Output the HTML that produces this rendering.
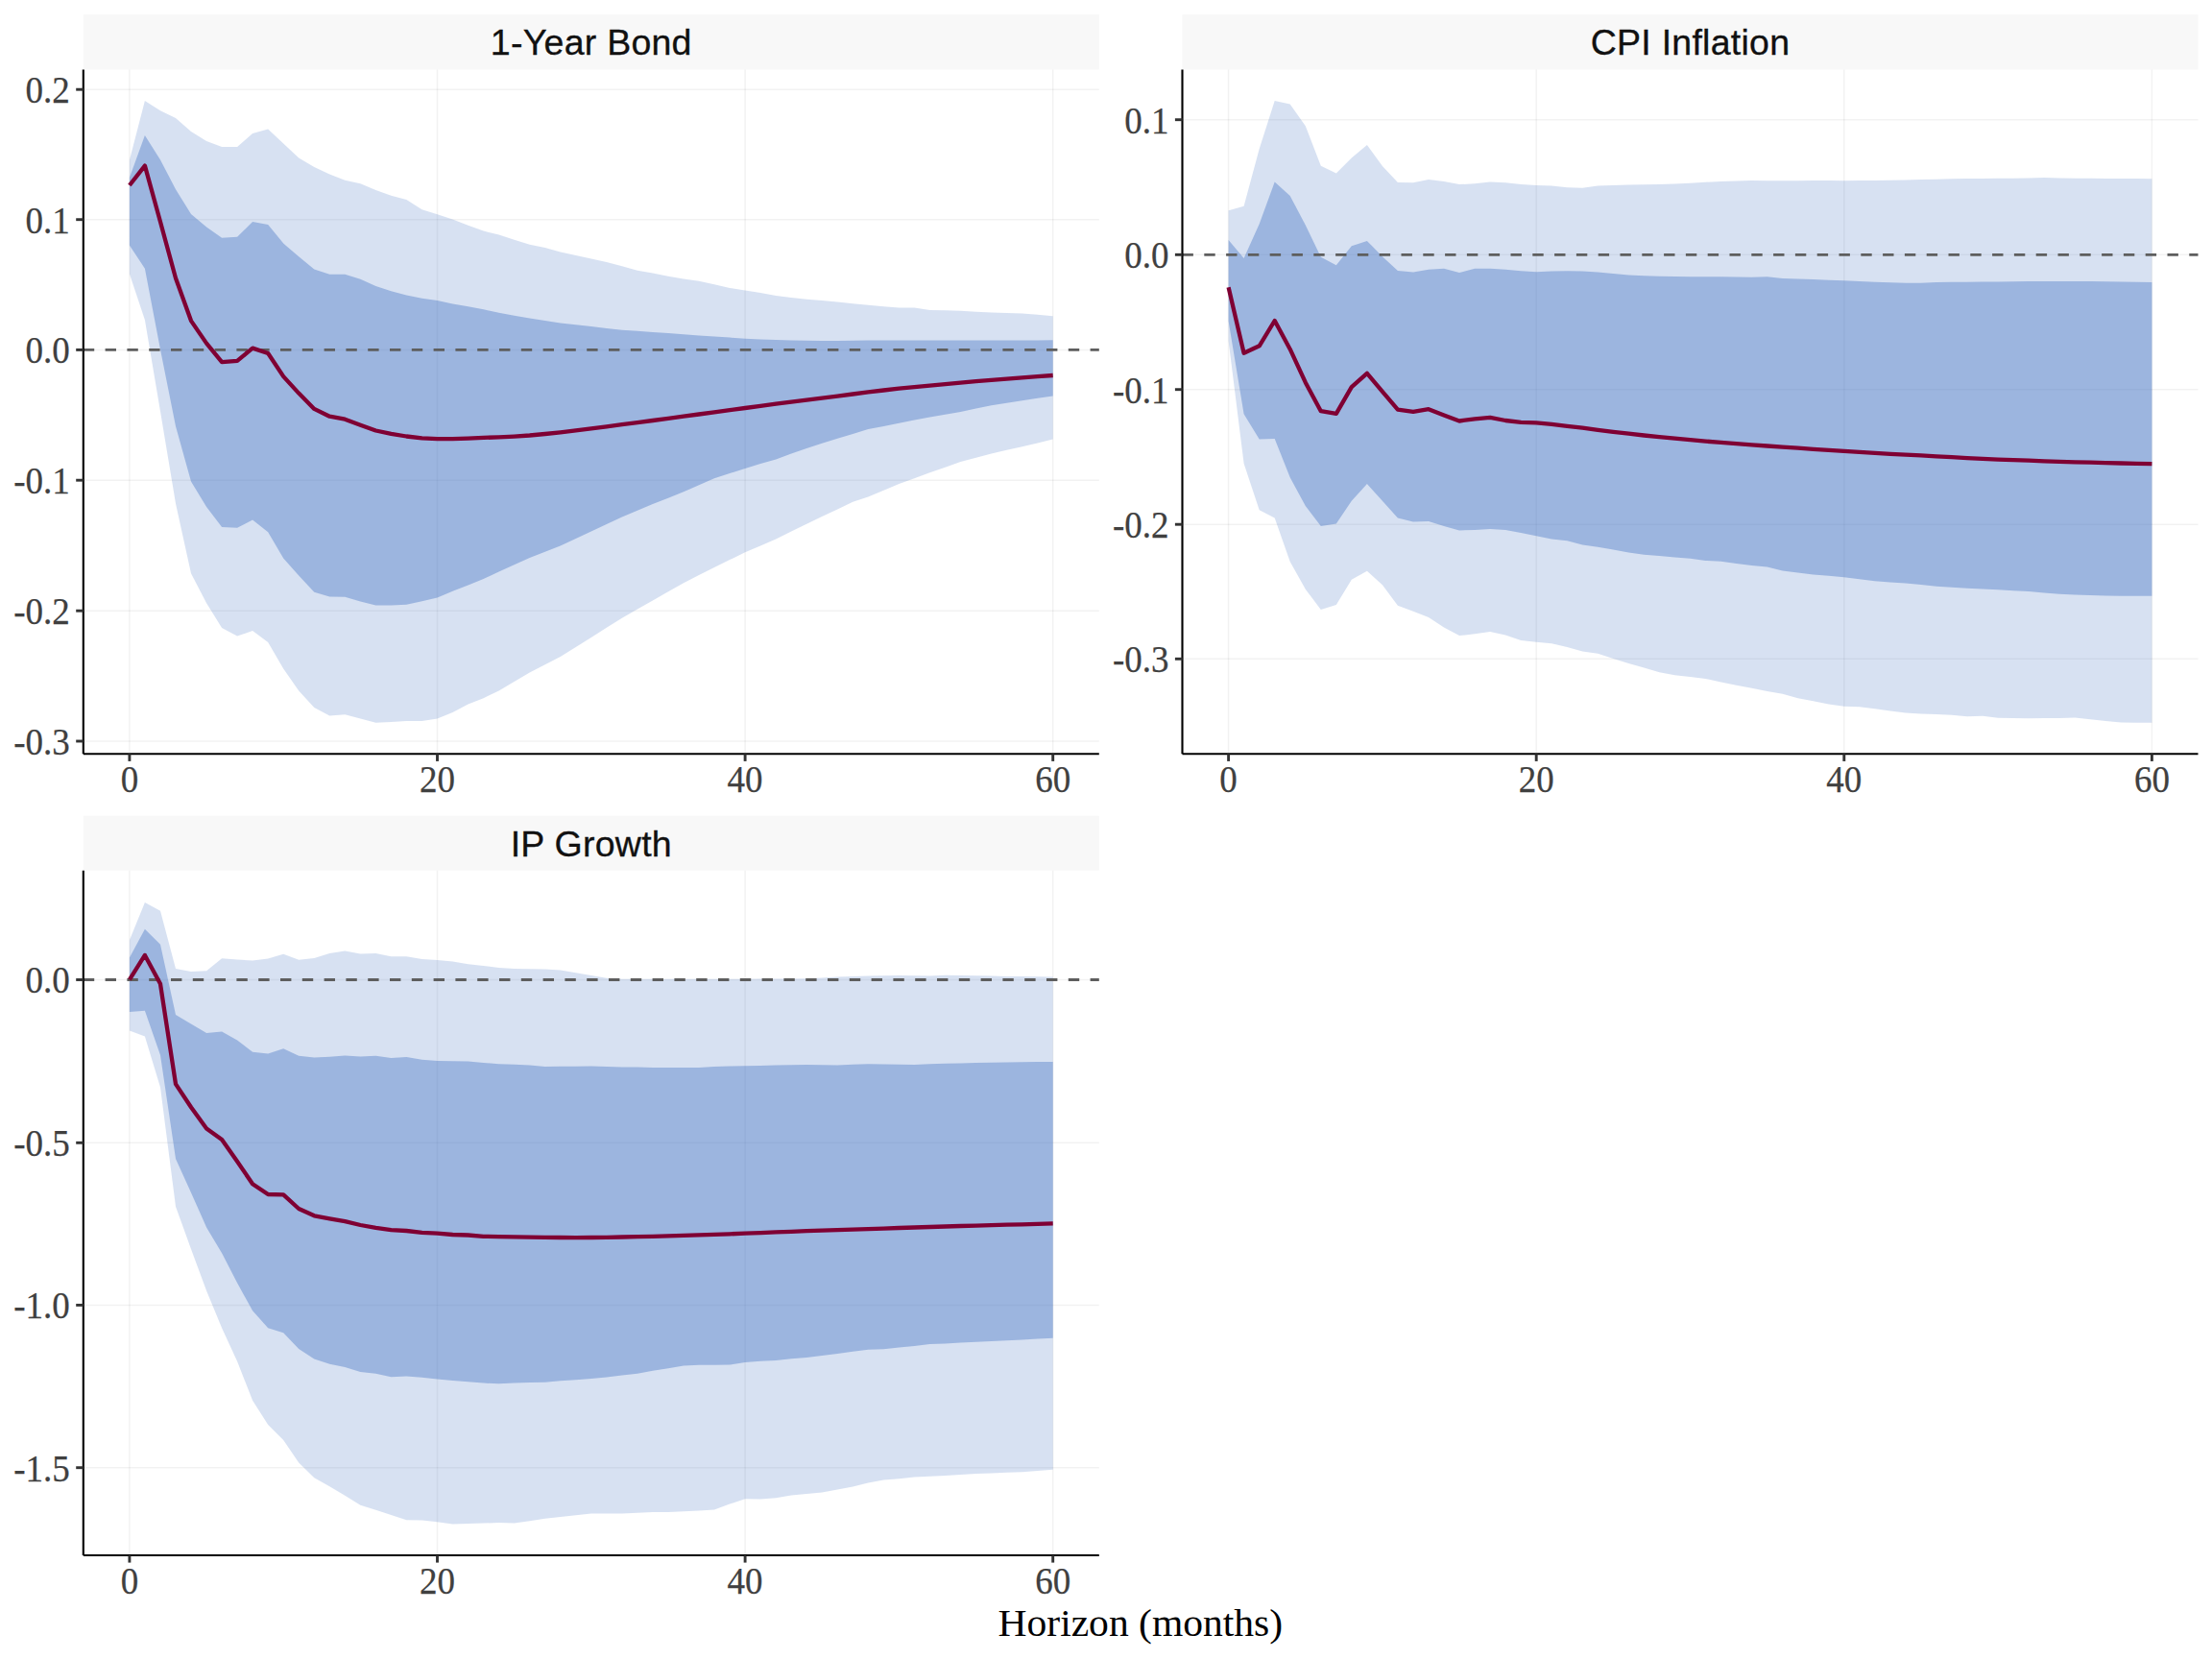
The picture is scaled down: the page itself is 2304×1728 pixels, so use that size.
<!DOCTYPE html>
<html lang="en"><head><meta charset="utf-8"><title>Impulse responses</title>
<style>html,body{margin:0;padding:0;background:#fff}svg{display:block}.t{font-family:"Liberation Serif",serif;font-size:39.8px;fill:#404040;stroke:#404040;stroke-width:0.25px}.s{font-family:"Liberation Sans",sans-serif;font-size:37.5px;fill:#111;stroke:#111;stroke-width:0.3px;letter-spacing:0.25px}.a{font-family:"Liberation Serif",serif;font-size:39.5px;fill:#000}</style></head><body>
<svg width="2304" height="1728" viewBox="0 0 2304 1728">
<rect width="2304" height="1728" fill="#fff"/>
<g>
<rect x="86.8" y="15" width="1058" height="57.5" fill="#F8F8F8"/>
<text class="s" x="615.8" y="57" text-anchor="middle">1-Year Bond</text>
<line x1="86.8" x2="1144.8" y1="93.2" y2="93.2" stroke="#000" stroke-opacity="0.05" stroke-width="1.5"/>
<line x1="86.8" x2="1144.8" y1="228.7" y2="228.7" stroke="#000" stroke-opacity="0.05" stroke-width="1.5"/>
<line x1="86.8" x2="1144.8" y1="364.4" y2="364.4" stroke="#000" stroke-opacity="0.05" stroke-width="1.5"/>
<line x1="86.8" x2="1144.8" y1="500.2" y2="500.2" stroke="#000" stroke-opacity="0.05" stroke-width="1.5"/>
<line x1="86.8" x2="1144.8" y1="636.2" y2="636.2" stroke="#000" stroke-opacity="0.05" stroke-width="1.5"/>
<line x1="86.8" x2="1144.8" y1="772" y2="772" stroke="#000" stroke-opacity="0.05" stroke-width="1.5"/>
<line x1="134.9" x2="134.9" y1="72.5" y2="785.3" stroke="#000" stroke-opacity="0.05" stroke-width="1.5"/>
<line x1="455.5" x2="455.5" y1="72.5" y2="785.3" stroke="#000" stroke-opacity="0.05" stroke-width="1.5"/>
<line x1="776.1" x2="776.1" y1="72.5" y2="785.3" stroke="#000" stroke-opacity="0.05" stroke-width="1.5"/>
<line x1="1096.7" x2="1096.7" y1="72.5" y2="785.3" stroke="#000" stroke-opacity="0.05" stroke-width="1.5"/>
<polygon points="134.9,166.8 150.9,105 167,115.3 183,123 199,137 215.1,146.9 231.1,152.9 247.1,152.9 263.1,139 279.2,134.6 295.2,149.6 311.2,164.6 327.3,174 343.3,181.6 359.3,187.8 375.4,191.2 391.4,197.9 407.4,203.7 423.4,208 439.5,218.3 455.5,223.2 471.5,228.6 487.6,234.7 503.6,240.6 519.6,244.5 535.6,249.7 551.7,254.8 567.7,257.9 583.7,262.4 599.8,266 615.8,269.6 631.8,272.9 647.9,277.2 663.9,281.7 679.9,284.6 696,287.7 712,290.4 728,292.8 744,296.2 760.1,300 776.1,302.5 792.1,304.9 808.2,307.9 824.2,309.9 840.2,311.7 856.2,313 872.3,314.6 888.3,316.2 904.3,317.8 920.4,319.2 936.4,320.5 952.4,320.5 968.5,322.9 984.5,323.3 1000.5,323.8 1016.6,324.7 1032.6,325.6 1048.6,326 1064.6,326.5 1080.7,327.8 1096.7,329.2 1096.7,457.6 1080.7,461.4 1064.6,465.2 1048.6,468.8 1032.6,472.4 1016.6,476.8 1000.5,481.1 984.5,486.7 968.5,492.3 952.4,498.2 936.4,504.1 920.4,510.8 904.3,517.6 888.3,522.7 872.3,530.4 856.2,538.1 840.2,545.7 824.2,553.6 808.2,561.5 792.1,568.4 776.1,575.3 760.1,583.1 744,591 728,599.1 712,607.3 696,616.3 679.9,625.4 663.9,634.6 647.9,643.8 631.8,653.8 615.8,663.9 599.8,674 583.7,684.1 567.7,692.3 551.7,700.4 535.6,709.9 519.6,719.5 503.6,727.2 487.6,733.5 471.5,742 455.5,748.5 439.5,751 423.4,751 407.4,751.9 391.4,752.8 375.4,748.5 359.3,744.3 343.3,745.6 327.3,737.1 311.2,719.6 295.2,696.4 279.2,668.9 263.1,657 247.1,662.6 231.1,653.9 215.1,628.2 199,597.3 183,524.4 167,428.6 150.9,333.2 134.9,285.2" fill="#4472C4" fill-opacity="0.215"/>
<polygon points="134.9,184.9 150.9,141.1 167,166.4 183,197.2 199,222.9 215.1,236.4 231.1,247.8 247.1,246.7 263.1,231 279.2,234.1 295.2,253.6 311.2,267.2 327.3,280.4 343.3,285.8 359.3,285.8 375.4,290.7 391.4,297.9 407.4,303.3 423.4,307.5 439.5,310.7 455.5,312.9 471.5,316.5 487.6,319.2 503.6,322.3 519.6,325.7 535.6,328.7 551.7,331.6 567.7,334.1 583.7,336.5 599.8,338.3 615.8,340.1 631.8,342 647.9,343.8 663.9,344.8 679.9,345.9 696,347.1 712,348.3 728,349.4 744,350.5 760.1,351.6 776.1,352.8 792.1,353.4 808.2,354.1 824.2,354.4 840.2,354.7 856.2,354.9 872.3,355 888.3,354.8 904.3,354.5 920.4,354.5 936.4,354.5 952.4,354.5 968.5,354.5 984.5,354.5 1000.5,354.5 1016.6,354.5 1032.6,354.5 1048.6,354.5 1064.6,354.5 1080.7,354.4 1096.7,354.3 1096.7,412.4 1080.7,414.8 1064.6,417.3 1048.6,419.7 1032.6,422.2 1016.6,425.6 1000.5,429 984.5,431.7 968.5,434.4 952.4,437.6 936.4,440.8 920.4,443.9 904.3,447.1 888.3,451.9 872.3,456.7 856.2,461.8 840.2,466.9 824.2,472.6 808.2,478.4 792.1,483.1 776.1,487.9 760.1,493 744,498.2 728,505.3 712,512.3 696,518.7 679.9,525 663.9,531.8 647.9,538.6 631.8,546.1 615.8,553.6 599.8,561 583.7,568.4 567.7,574.7 551.7,581 535.6,588.2 519.6,595.4 503.6,603.1 487.6,609.5 471.5,615.8 455.5,622.5 439.5,626.3 423.4,629.7 407.4,630.6 391.4,630.6 375.4,626.6 359.3,621.7 343.3,621.6 327.3,616.7 311.2,599.5 295.2,581.4 279.2,554.3 263.1,541.6 247.1,549.8 231.1,548.9 215.1,528.1 199,501.5 183,444 167,363.9 150.9,279.8 134.9,255.4" fill="#4472C4" fill-opacity="0.4"/>
<line x1="86.8" x2="1144.8" y1="364.4" y2="364.4" stroke="#5E5E5E" stroke-width="2.85" stroke-dasharray="11.4 11.4"/>
<polyline points="134.9,193 150.9,172.6 167,231 183,289.8 199,334.1 215.1,357.6 231.1,377.1 247.1,375.8 263.1,362.6 279.2,368 295.2,392.1 311.2,409.6 327.3,425.9 343.3,433.7 359.3,436.7 375.4,442.7 391.4,448.5 407.4,451.8 423.4,454.5 439.5,456.3 455.5,457.2 471.5,457.2 487.6,456.6 503.6,455.9 519.6,455.4 535.6,454.6 551.7,453.5 567.7,452 583.7,450.3 599.8,448.3 615.8,446.3 631.8,444.3 647.9,442.2 663.9,440.1 679.9,438 696,435.8 712,433.6 728,431.5 744,429.3 760.1,427.2 776.1,425 792.1,422.9 808.2,420.7 824.2,418.6 840.2,416.6 856.2,414.6 872.3,412.6 888.3,410.5 904.3,408.4 920.4,406.5 936.4,404.7 952.4,403.1 968.5,401.6 984.5,400.1 1000.5,398.6 1016.6,397.2 1032.6,395.9 1048.6,394.6 1064.6,393.4 1080.7,392.2 1096.7,391" fill="none" stroke="#7F0033" stroke-width="4.3" stroke-linejoin="round" stroke-linecap="butt"/>
<line x1="86.8" x2="86.8" y1="72.5" y2="785.3" stroke="#000" stroke-width="2.13"/>
<line x1="86.8" x2="1144.8" y1="785.3" y2="785.3" stroke="#000" stroke-width="2.13"/>
<line x1="79.2" x2="86.8" y1="93.2" y2="93.2" stroke="#333333" stroke-width="2.9"/>
<text class="t" x="72.8" y="107.1" text-anchor="end" textLength="46.3" lengthAdjust="spacingAndGlyphs">0.2</text>
<line x1="79.2" x2="86.8" y1="228.7" y2="228.7" stroke="#333333" stroke-width="2.9"/>
<text class="t" x="72.8" y="242.6" text-anchor="end" textLength="46.3" lengthAdjust="spacingAndGlyphs">0.1</text>
<line x1="79.2" x2="86.8" y1="364.4" y2="364.4" stroke="#333333" stroke-width="2.9"/>
<text class="t" x="72.8" y="378.3" text-anchor="end" textLength="46.3" lengthAdjust="spacingAndGlyphs">0.0</text>
<line x1="79.2" x2="86.8" y1="500.2" y2="500.2" stroke="#333333" stroke-width="2.9"/>
<text class="t" x="72.8" y="514.1" text-anchor="end" textLength="58.6" lengthAdjust="spacingAndGlyphs">-0.1</text>
<line x1="79.2" x2="86.8" y1="636.2" y2="636.2" stroke="#333333" stroke-width="2.9"/>
<text class="t" x="72.8" y="650.1" text-anchor="end" textLength="58.6" lengthAdjust="spacingAndGlyphs">-0.2</text>
<line x1="79.2" x2="86.8" y1="772" y2="772" stroke="#333333" stroke-width="2.9"/>
<text class="t" x="72.8" y="785.9" text-anchor="end" textLength="58.6" lengthAdjust="spacingAndGlyphs">-0.3</text>
<line x1="134.9" x2="134.9" y1="785.3" y2="792.9" stroke="#333333" stroke-width="2.9"/>
<text class="t" x="134.9" y="825.3" text-anchor="middle" textLength="18.5" lengthAdjust="spacingAndGlyphs">0</text>
<line x1="455.5" x2="455.5" y1="785.3" y2="792.9" stroke="#333333" stroke-width="2.9"/>
<text class="t" x="455.5" y="825.3" text-anchor="middle" textLength="37.0" lengthAdjust="spacingAndGlyphs">20</text>
<line x1="776.1" x2="776.1" y1="785.3" y2="792.9" stroke="#333333" stroke-width="2.9"/>
<text class="t" x="776.1" y="825.3" text-anchor="middle" textLength="37.0" lengthAdjust="spacingAndGlyphs">40</text>
<line x1="1096.7" x2="1096.7" y1="785.3" y2="792.9" stroke="#333333" stroke-width="2.9"/>
<text class="t" x="1096.7" y="825.3" text-anchor="middle" textLength="37.0" lengthAdjust="spacingAndGlyphs">60</text>
</g>
<g>
<rect x="1231.5" y="15" width="1058" height="57.5" fill="#F8F8F8"/>
<text class="s" x="1760.5" y="57" text-anchor="middle">CPI Inflation</text>
<line x1="1231.5" x2="2289.5" y1="124.7" y2="124.7" stroke="#000" stroke-opacity="0.05" stroke-width="1.5"/>
<line x1="1231.5" x2="2289.5" y1="265.3" y2="265.3" stroke="#000" stroke-opacity="0.05" stroke-width="1.5"/>
<line x1="1231.5" x2="2289.5" y1="405.7" y2="405.7" stroke="#000" stroke-opacity="0.05" stroke-width="1.5"/>
<line x1="1231.5" x2="2289.5" y1="546.2" y2="546.2" stroke="#000" stroke-opacity="0.05" stroke-width="1.5"/>
<line x1="1231.5" x2="2289.5" y1="686.3" y2="686.3" stroke="#000" stroke-opacity="0.05" stroke-width="1.5"/>
<line x1="1279.6" x2="1279.6" y1="72.5" y2="785.3" stroke="#000" stroke-opacity="0.05" stroke-width="1.5"/>
<line x1="1600.2" x2="1600.2" y1="72.5" y2="785.3" stroke="#000" stroke-opacity="0.05" stroke-width="1.5"/>
<line x1="1920.8" x2="1920.8" y1="72.5" y2="785.3" stroke="#000" stroke-opacity="0.05" stroke-width="1.5"/>
<line x1="2241.4" x2="2241.4" y1="72.5" y2="785.3" stroke="#000" stroke-opacity="0.05" stroke-width="1.5"/>
<polygon points="1279.6,219.2 1295.6,214.7 1311.7,155 1327.7,105 1343.7,108.6 1359.8,131.2 1375.8,172.8 1391.8,180.5 1407.8,164.6 1423.9,150.9 1439.9,173.1 1455.9,189.9 1472,190.3 1488,187.1 1504,188.9 1520,192.1 1536.1,191.2 1552.1,189.4 1568.1,190.3 1584.2,192.1 1600.2,193 1616.2,193.4 1632.3,195.3 1648.3,195.7 1664.3,193.4 1680.3,192.9 1696.4,192.5 1712.4,192.3 1728.4,192.1 1744.5,191.4 1760.5,190.7 1776.5,189.8 1792.6,188.9 1808.6,188.4 1824.6,188 1840.7,188.2 1856.7,188.3 1872.7,188.2 1888.7,188 1904.8,188.1 1920.8,188.2 1936.8,188.1 1952.9,188 1968.9,187.7 1984.9,187.5 2000.9,187.1 2017,186.7 2033,186.3 2049,186 2065.1,185.9 2081.1,185.8 2097.1,185.7 2113.2,185.6 2129.2,185.1 2145.2,185.6 2161.2,185.7 2177.3,185.8 2193.3,185.9 2209.3,186 2225.4,186.1 2241.4,186.2 2241.4,752.8 2225.4,752.7 2209.3,752.6 2193.3,750.9 2177.3,749.3 2161.2,747.4 2145.2,748 2129.2,748.1 2113.2,748.2 2097.1,748 2081.1,747.7 2065.1,745.8 2049,746.3 2033,744.7 2017,743.9 2000.9,743.6 1984.9,742.5 1968.9,740.4 1952.9,738.2 1936.8,736.3 1920.8,735.8 1904.8,733.6 1888.7,730.3 1872.7,727.3 1856.7,722.7 1840.7,720 1824.6,716.8 1808.6,713.8 1792.6,710.5 1776.5,707 1760.5,705.1 1744.5,703.2 1728.4,700.2 1712.4,695.6 1696.4,691.1 1680.3,685.9 1664.3,680.7 1648.3,678.4 1632.3,674.1 1616.2,670.2 1600.2,668.8 1584.2,666.9 1568.1,661.5 1552.1,658.1 1536.1,660.3 1520,662.1 1504,653.6 1488,643.1 1472,636.7 1455.9,630.8 1439.9,609.3 1423.9,594.8 1407.8,603.8 1391.8,629.9 1375.8,634.9 1359.8,613.8 1343.7,585.1 1327.7,539.4 1311.7,531.3 1295.6,482.8 1279.6,355" fill="#4472C4" fill-opacity="0.215"/>
<polygon points="1279.6,250 1295.6,269 1311.7,233.3 1327.7,189.4 1343.7,203.9 1359.8,234.6 1375.8,267.7 1391.8,276.2 1407.8,256.3 1423.9,250.9 1439.9,267.2 1455.9,282 1472,283.4 1488,280.7 1504,279.8 1520,284 1536.1,279.8 1552.1,279.8 1568.1,280.7 1584.2,282.2 1600.2,283.3 1616.2,282.5 1632.3,282.3 1648.3,282.5 1664.3,283.5 1680.3,285 1696.4,286.5 1712.4,287.2 1728.4,287.8 1744.5,288.1 1760.5,288.3 1776.5,288.3 1792.6,288.3 1808.6,288.5 1824.6,288.7 1840.7,288.3 1856.7,290.1 1872.7,290.6 1888.7,291 1904.8,291.7 1920.8,292.3 1936.8,293 1952.9,293.8 1968.9,294.3 1984.9,294.8 2000.9,294.8 2017,293.9 2033,293.8 2049,293.8 2065.1,293.6 2081.1,293.4 2097.1,293.2 2113.2,293 2129.2,293 2145.2,293 2161.2,293 2177.3,293 2193.3,293.2 2209.3,293.4 2225.4,293.7 2241.4,293.9 2241.4,620.8 2225.4,620.8 2209.3,620.8 2193.3,620.4 2177.3,620.1 2161.2,619.4 2145.2,618.8 2129.2,617.5 2113.2,616.1 2097.1,615.2 2081.1,614.3 2065.1,613.6 2049,612.8 2033,611.8 2017,610.8 2000.9,609.1 1984.9,607.4 1968.9,606.4 1952.9,605.3 1936.8,603.3 1920.8,601.2 1904.8,599.8 1888.7,598.4 1872.7,596.4 1856.7,594.4 1840.7,590.4 1824.6,589 1808.6,586.9 1792.6,584.8 1776.5,583.9 1760.5,581.7 1744.5,580.4 1728.4,579 1712.4,577.8 1696.4,575.4 1680.3,572.6 1664.3,569.7 1648.3,567.5 1632.3,563.3 1616.2,561.5 1600.2,558.2 1584.2,555.1 1568.1,552.1 1552.1,551 1536.1,551.9 1520,552.4 1504,547.9 1488,543 1472,543.4 1455.9,539.4 1439.9,521.7 1423.9,504.1 1407.8,521.7 1391.8,545.6 1375.8,547.9 1359.8,527.1 1343.7,497.3 1327.7,456.9 1311.7,457.5 1295.6,431.3 1279.6,334.5" fill="#4472C4" fill-opacity="0.4"/>
<line x1="1231.5" x2="2289.5" y1="265.3" y2="265.3" stroke="#5E5E5E" stroke-width="2.85" stroke-dasharray="11.4 11.4"/>
<polyline points="1279.6,299.2 1295.6,367.7 1311.7,360.3 1327.7,334 1343.7,363.7 1359.8,398.4 1375.8,428.2 1391.8,430.9 1407.8,403.2 1423.9,388.8 1439.9,407.8 1455.9,426.7 1472,428.9 1488,426.2 1504,432.5 1520,438.5 1536.1,436.3 1552.1,434.9 1568.1,438 1584.2,439.8 1600.2,440.3 1616.2,441.8 1632.3,443.8 1648.3,445.7 1664.3,447.8 1680.3,449.8 1696.4,451.7 1712.4,453.5 1728.4,455.1 1744.5,456.7 1760.5,458.2 1776.5,459.6 1792.6,460.9 1808.6,462.1 1824.6,463.3 1840.7,464.5 1856.7,465.6 1872.7,466.7 1888.7,467.8 1904.8,468.8 1920.8,469.9 1936.8,470.9 1952.9,471.8 1968.9,472.8 1984.9,473.6 2000.9,474.4 2017,475.3 2033,476.2 2049,477.1 2065.1,477.9 2081.1,478.6 2097.1,479.2 2113.2,479.7 2129.2,480.3 2145.2,480.8 2161.2,481.3 2177.3,481.7 2193.3,482.1 2209.3,482.5 2225.4,482.8 2241.4,483.2" fill="none" stroke="#7F0033" stroke-width="4.3" stroke-linejoin="round" stroke-linecap="butt"/>
<line x1="1231.5" x2="1231.5" y1="72.5" y2="785.3" stroke="#000" stroke-width="2.13"/>
<line x1="1231.5" x2="2289.5" y1="785.3" y2="785.3" stroke="#000" stroke-width="2.13"/>
<line x1="1223.9" x2="1231.5" y1="124.7" y2="124.7" stroke="#333333" stroke-width="2.9"/>
<text class="t" x="1217.5" y="138.6" text-anchor="end" textLength="46.3" lengthAdjust="spacingAndGlyphs">0.1</text>
<line x1="1223.9" x2="1231.5" y1="265.3" y2="265.3" stroke="#333333" stroke-width="2.9"/>
<text class="t" x="1217.5" y="279.2" text-anchor="end" textLength="46.3" lengthAdjust="spacingAndGlyphs">0.0</text>
<line x1="1223.9" x2="1231.5" y1="405.7" y2="405.7" stroke="#333333" stroke-width="2.9"/>
<text class="t" x="1217.5" y="419.6" text-anchor="end" textLength="58.6" lengthAdjust="spacingAndGlyphs">-0.1</text>
<line x1="1223.9" x2="1231.5" y1="546.2" y2="546.2" stroke="#333333" stroke-width="2.9"/>
<text class="t" x="1217.5" y="560.1" text-anchor="end" textLength="58.6" lengthAdjust="spacingAndGlyphs">-0.2</text>
<line x1="1223.9" x2="1231.5" y1="686.3" y2="686.3" stroke="#333333" stroke-width="2.9"/>
<text class="t" x="1217.5" y="700.2" text-anchor="end" textLength="58.6" lengthAdjust="spacingAndGlyphs">-0.3</text>
<line x1="1279.6" x2="1279.6" y1="785.3" y2="792.9" stroke="#333333" stroke-width="2.9"/>
<text class="t" x="1279.6" y="825.3" text-anchor="middle" textLength="18.5" lengthAdjust="spacingAndGlyphs">0</text>
<line x1="1600.2" x2="1600.2" y1="785.3" y2="792.9" stroke="#333333" stroke-width="2.9"/>
<text class="t" x="1600.2" y="825.3" text-anchor="middle" textLength="37.0" lengthAdjust="spacingAndGlyphs">20</text>
<line x1="1920.8" x2="1920.8" y1="785.3" y2="792.9" stroke="#333333" stroke-width="2.9"/>
<text class="t" x="1920.8" y="825.3" text-anchor="middle" textLength="37.0" lengthAdjust="spacingAndGlyphs">40</text>
<line x1="2241.4" x2="2241.4" y1="785.3" y2="792.9" stroke="#333333" stroke-width="2.9"/>
<text class="t" x="2241.4" y="825.3" text-anchor="middle" textLength="37.0" lengthAdjust="spacingAndGlyphs">60</text>
</g>
<g>
<rect x="86.8" y="849.7" width="1058" height="57" fill="#F8F8F8"/>
<text class="s" x="615.8" y="891.7" text-anchor="middle">IP Growth</text>
<line x1="86.8" x2="1144.8" y1="1020.5" y2="1020.5" stroke="#000" stroke-opacity="0.05" stroke-width="1.5"/>
<line x1="86.8" x2="1144.8" y1="1190.3" y2="1190.3" stroke="#000" stroke-opacity="0.05" stroke-width="1.5"/>
<line x1="86.8" x2="1144.8" y1="1359.4" y2="1359.4" stroke="#000" stroke-opacity="0.05" stroke-width="1.5"/>
<line x1="86.8" x2="1144.8" y1="1528.7" y2="1528.7" stroke="#000" stroke-opacity="0.05" stroke-width="1.5"/>
<line x1="134.9" x2="134.9" y1="906.7" y2="1620" stroke="#000" stroke-opacity="0.05" stroke-width="1.5"/>
<line x1="455.5" x2="455.5" y1="906.7" y2="1620" stroke="#000" stroke-opacity="0.05" stroke-width="1.5"/>
<line x1="776.1" x2="776.1" y1="906.7" y2="1620" stroke="#000" stroke-opacity="0.05" stroke-width="1.5"/>
<line x1="1096.7" x2="1096.7" y1="906.7" y2="1620" stroke="#000" stroke-opacity="0.05" stroke-width="1.5"/>
<polygon points="134.9,979.2 150.9,940.1 167,948.8 183,1008.9 199,1012.1 215.1,1011.2 231.1,998.2 247.1,999.5 263.1,1000.4 279.2,998.6 295.2,993.7 311.2,999.8 327.3,998 343.3,993.1 359.3,990.4 375.4,993.5 391.4,993.1 407.4,996.2 423.4,996.2 439.5,998.9 455.5,1000.1 471.5,1001.6 487.6,1004.3 503.6,1006.1 519.6,1007.9 535.6,1009 551.7,1009.2 567.7,1009.4 583.7,1010.6 599.8,1013.3 615.8,1016.1 631.8,1018.8 647.9,1019.7 663.9,1019.7 679.9,1019.7 696,1019.7 712,1019.7 728,1019.7 744,1019.7 760.1,1019.7 776.1,1019.7 792.1,1019.6 808.2,1019.5 824.2,1019.4 840.2,1019.3 856.2,1018.4 872.3,1017.5 888.3,1017 904.3,1016.4 920.4,1016.2 936.4,1016.1 952.4,1016.2 968.5,1016.4 984.5,1015.7 1000.5,1016.1 1016.6,1016.3 1032.6,1016.6 1048.6,1016.9 1064.6,1017.1 1080.7,1017.3 1096.7,1017.5 1096.7,1530.8 1080.7,1532 1064.6,1533.3 1048.6,1533.8 1032.6,1534.4 1016.6,1535 1000.5,1535.9 984.5,1537 968.5,1537.8 952.4,1538.4 936.4,1540.3 920.4,1541.6 904.3,1544.6 888.3,1548.4 872.3,1551.4 856.2,1554.4 840.2,1556 824.2,1557.6 808.2,1560.3 792.1,1561.4 776.1,1561.2 760.1,1566.6 744,1572.6 728,1573.6 712,1574.2 696,1575 679.9,1575 663.9,1575.8 647.9,1576.6 631.8,1576.4 615.8,1576.6 599.8,1578.3 583.7,1580.1 567.7,1581.8 551.7,1584.2 535.6,1586.4 519.6,1586.1 503.6,1586.5 487.6,1586.9 471.5,1587.6 455.5,1585.2 439.5,1583.5 423.4,1583.2 407.4,1578.1 391.4,1572.7 375.4,1567.8 359.3,1557.7 343.3,1548.3 327.3,1539.2 311.2,1523.5 295.2,1500 279.2,1484.1 263.1,1458.8 247.1,1417.9 231.1,1383.3 215.1,1344.4 199,1301 183,1256.7 167,1132.4 150.9,1079.6 134.9,1073.6" fill="#4472C4" fill-opacity="0.215"/>
<polygon points="134.9,997.6 150.9,967.8 167,983.7 183,1057 199,1066.4 215.1,1075.9 231.1,1074.5 247.1,1083.5 263.1,1095.7 279.2,1097.6 295.2,1092.2 311.2,1099.8 327.3,1101.6 343.3,1100.7 359.3,1099.5 375.4,1100.4 391.4,1099.8 407.4,1102 423.4,1101 439.5,1103.8 455.5,1105 471.5,1105.3 487.6,1105.6 503.6,1106.9 519.6,1108.3 535.6,1108.8 551.7,1109.4 567.7,1111 583.7,1110.8 599.8,1110.7 615.8,1110.6 631.8,1111 647.9,1111.4 663.9,1111.6 679.9,1111.9 696,1112 712,1112.1 728,1112.1 744,1111 760.1,1110.6 776.1,1110.3 792.1,1109.9 808.2,1109.5 824.2,1109.3 840.2,1109 856.2,1109.2 872.3,1109.4 888.3,1108.8 904.3,1108.3 920.4,1108.6 936.4,1108.8 952.4,1109 968.5,1108.3 984.5,1107.8 1000.5,1107.4 1016.6,1107 1032.6,1106.7 1048.6,1106.5 1064.6,1106.3 1080.7,1106.1 1096.7,1105.9 1096.7,1393.7 1080.7,1394.6 1064.6,1395.5 1048.6,1396.2 1032.6,1397 1016.6,1397.8 1000.5,1398.6 984.5,1399.5 968.5,1400 952.4,1402 936.4,1403.4 920.4,1405.2 904.3,1405.7 888.3,1407.7 872.3,1410.1 856.2,1412 840.2,1413.9 824.2,1415.2 808.2,1416.9 792.1,1417.7 776.1,1419 760.1,1421.5 744,1421.8 728,1421.8 712,1422.6 696,1425.3 679.9,1427.7 663.9,1430.7 647.9,1432.6 631.8,1434.5 615.8,1435.9 599.8,1437.2 583.7,1438.3 567.7,1439.7 551.7,1439.9 535.6,1440.5 519.6,1441.3 503.6,1440.6 487.6,1439.2 471.5,1438 455.5,1436.6 439.5,1434.8 423.4,1433.5 407.4,1434.3 391.4,1430.8 375.4,1429 359.3,1424 343.3,1420.7 327.3,1415.5 311.2,1405 295.2,1388.3 279.2,1383.3 263.1,1365.2 247.1,1336.3 231.1,1305.2 215.1,1278.4 199,1242.2 183,1207 167,1098.9 150.9,1052.8 134.9,1054.1" fill="#4472C4" fill-opacity="0.4"/>
<line x1="86.8" x2="1144.8" y1="1020.5" y2="1020.5" stroke="#5E5E5E" stroke-width="2.85" stroke-dasharray="11.4 11.4"/>
<polyline points="134.9,1020.4 150.9,994.9 167,1024.8 183,1129.1 199,1153.2 215.1,1175.4 231.1,1187 247.1,1209.7 263.1,1233.2 279.2,1244 295.2,1244.4 311.2,1259 327.3,1266.3 343.3,1269.3 359.3,1272.1 375.4,1276 391.4,1278.9 407.4,1281.1 423.4,1282 439.5,1283.8 455.5,1284.7 471.5,1286 487.6,1286.5 503.6,1287.8 519.6,1288.1 535.6,1288.3 551.7,1288.6 567.7,1288.8 583.7,1289 599.8,1289.1 615.8,1289 631.8,1288.8 647.9,1288.5 663.9,1288.2 679.9,1287.8 696,1287.4 712,1286.9 728,1286.4 744,1285.9 760.1,1285.3 776.1,1284.7 792.1,1284.1 808.2,1283.4 824.2,1282.8 840.2,1282.1 856.2,1281.6 872.3,1281.1 888.3,1280.6 904.3,1280.1 920.4,1279.6 936.4,1279 952.4,1278.5 968.5,1278 984.5,1277.5 1000.5,1277 1016.6,1276.6 1032.6,1276.2 1048.6,1275.7 1064.6,1275.3 1080.7,1274.8 1096.7,1274.4" fill="none" stroke="#7F0033" stroke-width="4.3" stroke-linejoin="round" stroke-linecap="butt"/>
<line x1="86.8" x2="86.8" y1="906.7" y2="1620" stroke="#000" stroke-width="2.13"/>
<line x1="86.8" x2="1144.8" y1="1620" y2="1620" stroke="#000" stroke-width="2.13"/>
<line x1="79.2" x2="86.8" y1="1020.5" y2="1020.5" stroke="#333333" stroke-width="2.9"/>
<text class="t" x="72.8" y="1034.4" text-anchor="end" textLength="46.3" lengthAdjust="spacingAndGlyphs">0.0</text>
<line x1="79.2" x2="86.8" y1="1190.3" y2="1190.3" stroke="#333333" stroke-width="2.9"/>
<text class="t" x="72.8" y="1204.2" text-anchor="end" textLength="58.6" lengthAdjust="spacingAndGlyphs">-0.5</text>
<line x1="79.2" x2="86.8" y1="1359.4" y2="1359.4" stroke="#333333" stroke-width="2.9"/>
<text class="t" x="72.8" y="1373.3" text-anchor="end" textLength="58.6" lengthAdjust="spacingAndGlyphs">-1.0</text>
<line x1="79.2" x2="86.8" y1="1528.7" y2="1528.7" stroke="#333333" stroke-width="2.9"/>
<text class="t" x="72.8" y="1542.6" text-anchor="end" textLength="58.6" lengthAdjust="spacingAndGlyphs">-1.5</text>
<line x1="134.9" x2="134.9" y1="1620" y2="1627.6" stroke="#333333" stroke-width="2.9"/>
<text class="t" x="134.9" y="1660" text-anchor="middle" textLength="18.5" lengthAdjust="spacingAndGlyphs">0</text>
<line x1="455.5" x2="455.5" y1="1620" y2="1627.6" stroke="#333333" stroke-width="2.9"/>
<text class="t" x="455.5" y="1660" text-anchor="middle" textLength="37.0" lengthAdjust="spacingAndGlyphs">20</text>
<line x1="776.1" x2="776.1" y1="1620" y2="1627.6" stroke="#333333" stroke-width="2.9"/>
<text class="t" x="776.1" y="1660" text-anchor="middle" textLength="37.0" lengthAdjust="spacingAndGlyphs">40</text>
<line x1="1096.7" x2="1096.7" y1="1620" y2="1627.6" stroke="#333333" stroke-width="2.9"/>
<text class="t" x="1096.7" y="1660" text-anchor="middle" textLength="37.0" lengthAdjust="spacingAndGlyphs">60</text>
</g>
<text class="a" x="1187.8" y="1704.2" text-anchor="middle" textLength="296.5" lengthAdjust="spacingAndGlyphs">Horizon (months)</text>
</svg></body></html>
